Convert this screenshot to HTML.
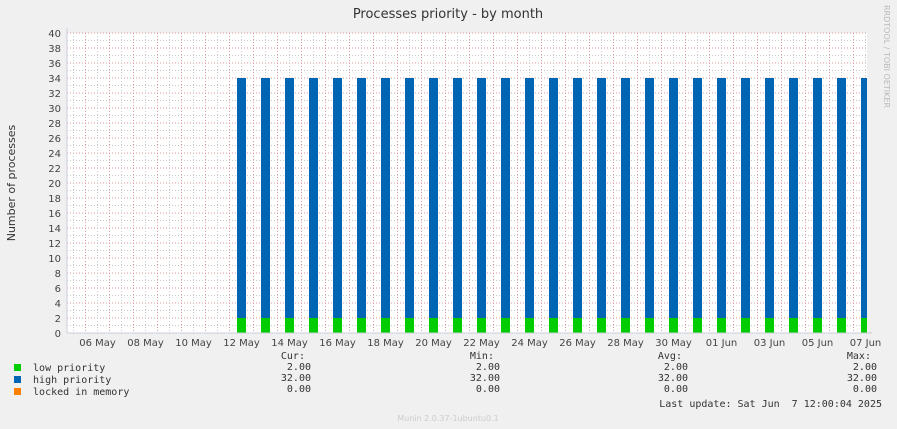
<!DOCTYPE html>
<html><head><meta charset="utf-8"><style>
body{margin:0;background:#f0f0f0;width:897px;height:429px;overflow:hidden;position:relative;font-family:"DejaVu Sans","Liberation Sans",sans-serif}
.m{font-family:"DejaVu Sans Mono","Liberation Mono",monospace;font-size:10px;color:#333;position:absolute;white-space:pre}
</style></head><body>
<svg id="chart" width="897" height="429" style="position:absolute;left:0;top:0">
<text x="448" y="18" text-anchor="middle" font-size="13" fill="#333">Processes priority - by month</text>
<text transform="translate(15,183) rotate(-90)" text-anchor="middle" font-size="11" fill="#333">Number of processes</text>
<text transform="translate(884,5) rotate(90)" font-size="8" fill="#bbb">RRDTOOL / TOBI OETIKER</text>
<rect x="67" y="33" width="800" height="300" fill="#fff"/>
<g id="grid"></g><g id="bars"></g><g id="axes"></g>
<text x="448" y="421" text-anchor="middle" font-size="8" fill="#ccc">Munin 2.0.37-1ubuntu0.1</text>
</svg>
<div class="m" style="left:14px;top:363px"><span style="display:inline-block;width:7px;height:7px;background:#00cc00"></span>  low priority</div>
<div class="m" style="left:14px;top:375px"><span style="display:inline-block;width:7px;height:7px;background:#0066b3"></span>  high priority</div>
<div class="m" style="left:14px;top:387px"><span style="display:inline-block;width:7px;height:7px;background:#ff8000"></span>  locked in memory</div>
<div class="m" style="right:586px;top:351px;text-align:right">Cur: 
 2.00
32.00
 0.00</div>
<div class="m" style="right:397px;top:351px;text-align:right">Min: 
 2.00
32.00
 0.00</div>
<div class="m" style="right:209px;top:351px;text-align:right">Avg: 
 2.00
32.00
 0.00</div>
<div class="m" style="right:20px;top:351px;text-align:right">Max: 
 2.00
32.00
 0.00</div>
<div class="m" style="right:15px;top:399px">Last update: Sat Jun  7 12:00:04 2025</div>
<script>
const dayLabels=["06 May","08 May","10 May","12 May","14 May","16 May","18 May","20 May","22 May","24 May","26 May","28 May","30 May","01 Jun","03 Jun","05 Jun","07 Jun"];
const yTicks=[0,2,4,6,8,10,12,14,16,18,20,22,24,26,28,30,32,34,36,38,40];
const barDays=[6,7,8,9,10,11,12,13,14,15,16,17,18,19,20,21,22,23,24,25,26,27,28,29,30,31,32];
const lowVals=[2,2,2,2,2,2,2,2,2,2,2,2,2,2,2,2,2,2,2,2,2,2,2,2,2,2,2];
const highVals=[32,32,32,32,32,32,32,32,32,32,32,32,32,32,32,32,32,32,32,32,32,32,32,32,32,32,32];
const NS="http://www.w3.org/2000/svg";
const X0=67,X1=867,Y0=333;
function x(d){return 97.5+d*24;}
function y(v){return Y0-v*7.5;}
const grid=document.getElementById('grid'),bars=document.getElementById('bars'),axes=document.getElementById('axes');
function mk(tag,a,parent){const e=document.createElementNS(NS,tag);for(const k in a)e.setAttribute(k,a[k]);parent.appendChild(e);return e;}
for(let v=0;v<=40;v++){
  const l=mk('line',{x1:X0,x2:X1,y1:y(v),y2:y(v),stroke:v%2?'#c8c8c8':'#e09a9a','stroke-dasharray':'1,2'},grid);
  
  
}
for(let d=-1;d<34;d++){
  const xr=x(d)-12, xg=x(d);
  if(xr>X0&&xr<X1){const l=mk('line',{x1:xr,x2:xr,y1:33,y2:Y0,stroke:'#e09a9a','stroke-dasharray':'1,2'},grid);
  
  }
  if(xg>X0&&xg<X1){const l=mk('line',{x1:xg,x2:xg,y1:33,y2:Y0,stroke:'#c8c8c8','stroke-dasharray':'1,2'},grid);
  
  }
}
barDays.forEach((d,i)=>{
  const cx=x(d),w=9;let bx=cx-4.5;let bw=Math.min(w,X1-bx);
  const g=mk('rect',{x:bx,y:y(lowVals[i]),width:bw,height:y(0)-y(lowVals[i]),fill:'#00cc00'},bars);
  
  
  const b=mk('rect',{x:bx,y:y(lowVals[i]+highVals[i]),width:bw,height:y(lowVals[i])-y(lowVals[i]+highVals[i]),fill:'#0066b3'},bars);
  
  
});
yTicks.forEach(v=>{
  const t=mk('text',{x:61,y:y(v)+4,'text-anchor':'end','font-size':10,fill:'#444'},axes);
  t.textContent=v;
  
  
});
dayLabels.forEach((s,i)=>{
  const t=mk('text',{x:x(i*2),y:346,'text-anchor':'middle','font-size':10,fill:'#444'},axes);
  t.textContent=s;
  
  
});
const ax=mk('line',{x1:67,x2:67,y1:28,y2:Y0,stroke:'#ccd'},axes);


const ax2=mk('line',{x1:67,x2:872,y1:Y0,y2:Y0,stroke:'#ccd'},axes);


</script>
</body></html>
